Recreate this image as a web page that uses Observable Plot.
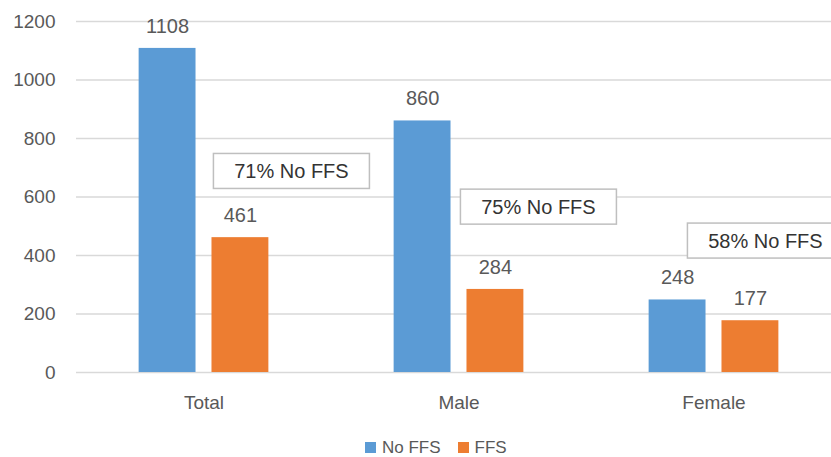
<!DOCTYPE html>
<html><head><meta charset="utf-8">
<script src="https://cdn.jsdelivr.net/npm/d3@7"></script>
<script src="https://cdn.jsdelivr.net/npm/@observablehq/plot@0.6"></script>
<style>
body{margin:0;background:#fff;font-family:"Liberation Sans",Arial,sans-serif;overflow:hidden}
#chart{position:relative;width:831px;height:457px;overflow:hidden}
#legend{position:absolute;left:365px;top:439px;display:flex;align-items:center;font-size:17px;line-height:17px;color:#595959;white-space:nowrap}
#legend .sw{display:inline-block;width:11px;height:11px;margin-right:6px}
#legend .item{display:flex;align-items:center;margin-right:17px}
</style>
</head><body><div id="chart"></div>
<script>
// ---- data ----
const groups = ["Total", "Male", "Female"];
const series = ["No FFS", "FFS"];
const noFFS = [1108, 860, 248];
const ffs = [461, 284, 177];
const yTicks = [0, 200, 400, 600, 800, 1000, 1200];
const annoText = ["71% No FFS", "75% No FFS", "58% No FFS"];
const annoValue = [687, 565, 449];

// ---- layout / style ----
const colors = ["#5B9BD5", "#ED7D31"];
const annoDx = [51, 43, 15];
const W = 831, H = 430;

const rows = [];
groups.forEach((g, i) => {
  rows.push({group: g, series: series[0], value: noFFS[i]});
  rows.push({group: g, series: series[1], value: ffs[i]});
});

const annoMarks = groups.map((g, i) =>
  Plot.text([{group: g, series: "FFS", value: annoValue[i], label: annoText[i]}], {
    fx: "group", x: "series", y: "value", text: "label",
    dx: annoDx[i], fontSize: 20, fill: "#333333", lineAnchor: "middle",
    textAnchor: "middle"
  })
);

const svg = Plot.plot({
  width: W, height: H,
  marginLeft: 75.5, marginRight: -11, marginTop: 21, marginBottom: 58,
  style: {fontFamily: '"Liberation Sans", Arial, sans-serif', fontSize: "19px", color: "#595959", background: "transparent", overflow: "hidden"},
  fx: {domain: groups, padding: 0, axis: "bottom", label: null, tickSize: 0, tickPadding: 23},
  x: {domain: series, paddingInner: 16/73, paddingOuter: 0.8596, axis: null, round: false},
  y: {domain: [0, 1200], ticks: yTicks, tickSize: 0, tickPadding: 21, tickFormat: "d", label: null},
  color: {domain: series, range: colors},
  marks: [
    Plot.ruleY(yTicks, {stroke: "#D9D9D9", strokeWidth: 1.3}),
    Plot.barY(rows, {fx: "group", x: "series", y: "value", fill: "series"}),
    Plot.text(rows, {fx: "group", x: "series", y: "value", text: d => String(d.value),
      dy: -22, lineAnchor: "middle", fontSize: 20, fill: "#595959"}),
    ...annoMarks
  ]
});

const chart = document.getElementById("chart");
chart.appendChild(svg);

// boxes behind annotation labels
const NS = "http://www.w3.org/2000/svg";
Array.from(svg.querySelectorAll("text"))
  .filter(t => annoText.includes(t.textContent.trim()))
  .forEach(t => {
    const b = t.getBBox();
    const cx = b.x + b.width / 2, cy = b.y + b.height / 2;
    const r = document.createElementNS(NS, "rect");
    r.setAttribute("x", cx - 78);
    r.setAttribute("y", cy - 17.5);
    r.setAttribute("width", 156);
    r.setAttribute("height", 35);
    r.setAttribute("fill", "#ffffff");
    r.setAttribute("stroke", "#BFBFBF");
    r.setAttribute("stroke-width", 1.5);
    const tr = t.getAttribute("transform");
    if (tr) r.setAttribute("transform", tr);
    t.parentNode.insertBefore(r, t);
  });

// legend
const legend = document.createElement("div");
legend.id = "legend";
series.forEach((s, i) => {
  const item = document.createElement("span");
  item.className = "item";
  const sw = document.createElement("span");
  sw.className = "sw";
  sw.style.background = colors[i];
  item.appendChild(sw);
  item.appendChild(document.createTextNode(s));
  legend.appendChild(item);
});
chart.appendChild(legend);
</script>
</body></html>
